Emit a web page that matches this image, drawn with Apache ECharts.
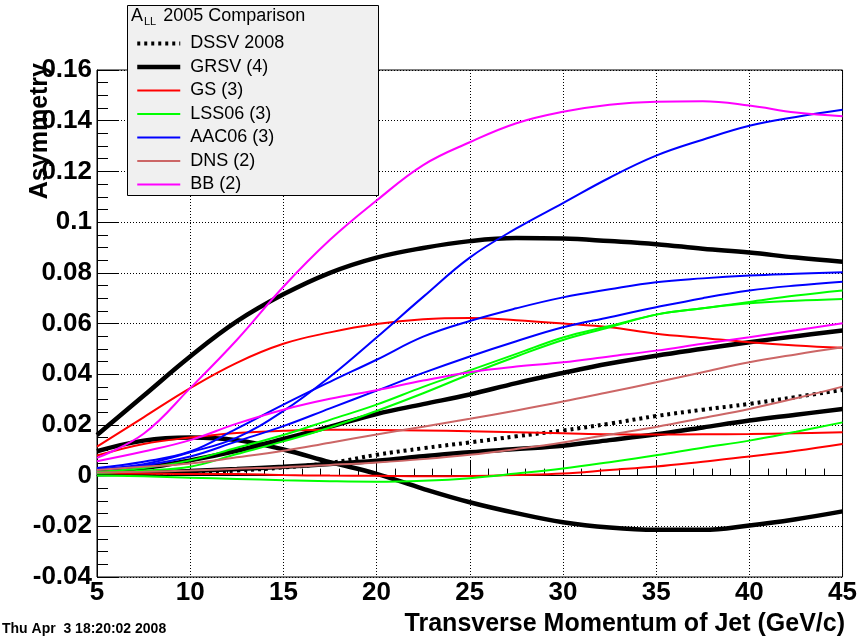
<!DOCTYPE html>
<html>
<head>
<meta charset="utf-8">
<title>A_LL 2005 Comparison</title>
<script src="https://cdn.jsdelivr.net/npm/echarts@6/dist/echarts.min.js"></script>
<style>
  html, body { margin: 0; padding: 0; background: #fff; }
  #chart { width: 860px; height: 638px; }
</style>
</head>
<body>
<div id="chart"></div>
<script>
// Jet transverse momentum grid (GeV/c)
const pt = [5, 7.5, 10, 12.5, 15, 17.5, 20, 22.5, 25, 27.5, 30, 32.5, 35, 37.5, 40, 42.5, 45];

// DSSV 2008
const dssv = [0.0006, 0.0009, 0.0013, 0.0020, 0.0032, 0.0050, 0.0082, 0.0108, 0.0131, 0.0155, 0.0178, 0.0205, 0.0235, 0.0260, 0.0283, 0.0310, 0.0338];

// GRSV (4 scenarios)
const grsvMax   = [0.0160, 0.0315, 0.0470, 0.0608, 0.0715, 0.0800, 0.0860, 0.0898, 0.0925, 0.0937, 0.0935, 0.0925, 0.0913, 0.0895, 0.0880, 0.0860, 0.0844];
const grsvNode  = [0.0096, 0.0138, 0.0150, 0.0140, 0.0103, 0.0053, 0.0007, -0.0052, -0.0105, -0.0148, -0.0184, -0.0205, -0.0214, -0.0214, -0.0197, -0.0172, -0.0141];
const grsvStd   = [0.0015, 0.0030, 0.0060, 0.0098, 0.0145, 0.0193, 0.0243, 0.0282, 0.0320, 0.0365, 0.0405, 0.0442, 0.0473, 0.0500, 0.0526, 0.0550, 0.0572];
const grsvZero  = [0.0005, 0.0010, 0.0018, 0.0026, 0.0035, 0.0046, 0.0059, 0.0076, 0.0092, 0.0105, 0.0118, 0.0140, 0.0163, 0.0190, 0.0217, 0.0240, 0.0263];

// GS (3 sets)
const gsA = [0.0114, 0.0230, 0.0345, 0.0445, 0.0520, 0.0565, 0.0598, 0.0617, 0.0622, 0.0613, 0.0600, 0.0585, 0.0560, 0.0543, 0.0526, 0.0513, 0.0504];
const gsB = [0.0079, 0.0125, 0.0150, 0.0168, 0.0177, 0.0181, 0.0180, 0.0178, 0.0175, 0.0171, 0.0167, 0.0163, 0.0162, 0.0163, 0.0164, 0.0167, 0.0171];
const gsC = [0.0010, 0.0008, 0.0006, 0.0006, 0.0002, 0.0000, -0.0001, -0.0003, -0.0002, 0.0002, 0.0008, 0.0022, 0.0036, 0.0055, 0.0075, 0.0098, 0.0125];

// LSS06 (3 sets)
const lssA = [0.0015, 0.0030, 0.0060, 0.0110, 0.0160, 0.0220, 0.0280, 0.0350, 0.0415, 0.0480, 0.0545, 0.0590, 0.0635, 0.0660, 0.0680, 0.0690, 0.0697];
const lssB = [0.0010, 0.0020, 0.0035, 0.0085, 0.0135, 0.0190, 0.0255, 0.0325, 0.0400, 0.0470, 0.0535, 0.0585, 0.0635, 0.0660, 0.0685, 0.0710, 0.0730];
const lssC = [0.0000, -0.0003, -0.0008, -0.0013, -0.0018, -0.0022, -0.0024, -0.0020, -0.0010, 0.0008, 0.0028, 0.0053, 0.0080, 0.0110, 0.0138, 0.0173, 0.0210];

// AAC06 (3 sets)
const aacA = [0.0026, 0.0045, 0.0092, 0.0150, 0.0255, 0.0390, 0.0545, 0.0705, 0.0860, 0.0975, 0.1075, 0.1175, 0.1262, 0.1325, 0.1380, 0.1415, 0.1443];
const aacB = [0.0030, 0.0055, 0.0095, 0.0185, 0.0280, 0.0370, 0.0457, 0.0548, 0.0610, 0.0660, 0.0703, 0.0735, 0.0763, 0.0778, 0.0789, 0.0796, 0.0802];
const aacC = [0.0024, 0.0040, 0.0075, 0.0135, 0.0195, 0.0265, 0.0335, 0.0405, 0.0470, 0.0530, 0.0585, 0.0625, 0.0664, 0.0700, 0.0730, 0.0750, 0.0765];

// DNS (2 sets)
const dnsA = [0.0022, 0.0035, 0.0048, 0.0072, 0.0098, 0.0130, 0.0162, 0.0193, 0.0224, 0.0257, 0.0292, 0.0330, 0.0368, 0.0408, 0.0447, 0.0478, 0.0506];
const dnsB = [0.0012, 0.0015, 0.0020, 0.0027, 0.0033, 0.0042, 0.0052, 0.0065, 0.0082, 0.0105, 0.0131, 0.0162, 0.0192, 0.0227, 0.0263, 0.0305, 0.0351];

// BB (2 sets)
const bbA = [0.0070, 0.0165, 0.0345, 0.0535, 0.0745, 0.0930, 0.1085, 0.1225, 0.1315, 0.1390, 0.1435, 0.1463, 0.1475, 0.1477, 0.1460, 0.1432, 0.1418];
const bbB = [0.0057, 0.0095, 0.0140, 0.0205, 0.0260, 0.0303, 0.0337, 0.0375, 0.0408, 0.0430, 0.0447, 0.0470, 0.0493, 0.0520, 0.0546, 0.0573, 0.0601];

const legendNames = ['DSSV 2008', 'GRSV (4)', 'GS (3)', 'LSS06 (3)', 'AAC06 (3)', 'DNS (2)', 'BB (2)'];
const xTicks = { min: 5, max: 45, step: 5 };
const yTicks = { min: -0.04, max: 0.16, step: 0.02 };

const FONT = 'Liberation Sans, Arial, Helvetica, sans-serif';

function curve(name, values, color, width, dash) {
  return {
    type: 'line',
    name: name,
    data: pt.map((x, i) => [x, values[i]]),
    symbol: 'none',
    smooth: 0.4,
    silent: true,
    itemStyle: { color: color },
    lineStyle: { color: color, width: width, type: dash || 'solid', cap: 'butt' }
  };
}

const BLACK = '#000000', RED = '#ff0000', GREEN = '#00ff00', BLUE = '#0000ff', DNSC = '#cc6666', MAG = '#ff00ff';

const series = [
  curve(legendNames[0], dssv, BLACK, 4, [3, 4]),
  curve(legendNames[1], grsvMax, BLACK, 4.5),
  curve(legendNames[1], grsvNode, BLACK, 4.5),
  curve(legendNames[1], grsvStd, BLACK, 4.5),
  curve(legendNames[1], grsvZero, BLACK, 4.5),
  curve(legendNames[2], gsA, RED, 2),
  curve(legendNames[2], gsB, RED, 2),
  curve(legendNames[2], gsC, RED, 2),
  curve(legendNames[3], lssA, GREEN, 2),
  curve(legendNames[3], lssB, GREEN, 2),
  curve(legendNames[3], lssC, GREEN, 2),
  curve(legendNames[4], aacA, BLUE, 2),
  curve(legendNames[4], aacB, BLUE, 2),
  curve(legendNames[4], aacC, BLUE, 2),
  curve(legendNames[5], dnsA, DNSC, 2),
  curve(legendNames[5], dnsB, DNSC, 2),
  curve(legendNames[6], bbA, MAG, 2),
  curve(legendNames[6], bbB, MAG, 2)
];

const chart = echarts.init(document.getElementById('chart'), null, { renderer: 'canvas' });

chart.setOption({
  animation: false,
  backgroundColor: '#ffffff',
  grid: {
    left: 97, right: 15, top: 70, bottom: 61,
    show: true, borderColor: '#000', borderWidth: 1, backgroundColor: 'transparent'
  },
  xAxis: {
    type: 'value',
    min: xTicks.min, max: xTicks.max, interval: xTicks.step,
    axisLine: { show: true, lineStyle: { color: '#000', width: 1 } },
    axisTick: { show: true, inside: true, length: 15, lineStyle: { color: '#000', width: 1 } },
    minorTick: { show: true, splitNumber: 5, length: 7, lineStyle: { color: '#000', width: 1 } },
    splitLine: { show: true, lineStyle: { color: '#000', width: 1, type: [1, 2] } },
    axisLabel: { color: '#000', fontFamily: FONT, fontWeight: 'bold', fontSize: 26, margin: 3 }
  },
  yAxis: {
    type: 'value',
    min: yTicks.min, max: yTicks.max, interval: yTicks.step,
    axisLine: { show: true, lineStyle: { color: '#000', width: 1 } },
    axisTick: { show: true, inside: true, length: 22, lineStyle: { color: '#000', width: 1 } },
    minorTick: { show: true, splitNumber: 4, length: 11, lineStyle: { color: '#000', width: 1 } },
    splitLine: { show: true, lineStyle: { color: '#000', width: 1, type: [1, 2] } },
    axisLabel: { color: '#000', fontFamily: FONT, fontWeight: 'bold', fontSize: 26, margin: 5 }
  },
  legend: {
    data: legendNames,
    orient: 'vertical',
    left: 135, top: 34.5,
    padding: 0,
    itemWidth: 43, itemHeight: 14, itemGap: 5.5,
    selectedMode: false,
    z: 8,
    // line sample only, no marker in the middle
    itemStyle: { opacity: 0 },
    lineStyle: { width: 'inherit', type: 'inherit' },
    textStyle: { color: '#000', fontFamily: FONT, fontSize: 18, padding: [0, 0, 0, 5] }
  },
  graphic: [
    {
      type: 'rect', z: 6, silent: true,
      shape: { x: 127.5, y: 5.5, width: 251, height: 190 },
      style: { fill: '#f0f0f0', stroke: '#000', lineWidth: 1 }
    },
    {
      type: 'text', z: 8, silent: true,
      x: 131, y: 16,
      style: {
        text: '{a|A}{s|LL}{a| 2005 Comparison}',
        fill: '#000', font: '18px ' + FONT,
        verticalAlign: 'middle', align: 'left',
        rich: {
          a: { fontSize: 18, fontFamily: FONT, lineHeight: 22, verticalAlign: 'middle' },
          s: { fontSize: 11, fontFamily: FONT, lineHeight: 12, verticalAlign: 'bottom', padding: [0, 2, 0, 1] }
        }
      }
    },
    {
      type: 'text', z: 8, silent: true,
      x: 40, y: 63, rotation: Math.PI / 2,
      style: {
        text: 'Asymmetry', fill: '#000',
        font: 'bold 25px ' + FONT, align: 'right', verticalAlign: 'middle'
      }
    },
    {
      type: 'text', z: 8, silent: true,
      x: 845, y: 624,
      style: {
        text: 'Transverse Momentum of Jet (GeV/c)', fill: '#000',
        font: 'bold 25px ' + FONT, align: 'right', verticalAlign: 'middle'
      }
    },
    {
      type: 'text', z: 8, silent: true,
      x: 2, y: 629,
      style: {
        text: 'Thu Apr  3 18:20:02 2008', fill: '#000',
        font: 'bold 14px ' + FONT, align: 'left', verticalAlign: 'middle'
      }
    }
  ],
  series: series
});
</script>
</body>
</html>
